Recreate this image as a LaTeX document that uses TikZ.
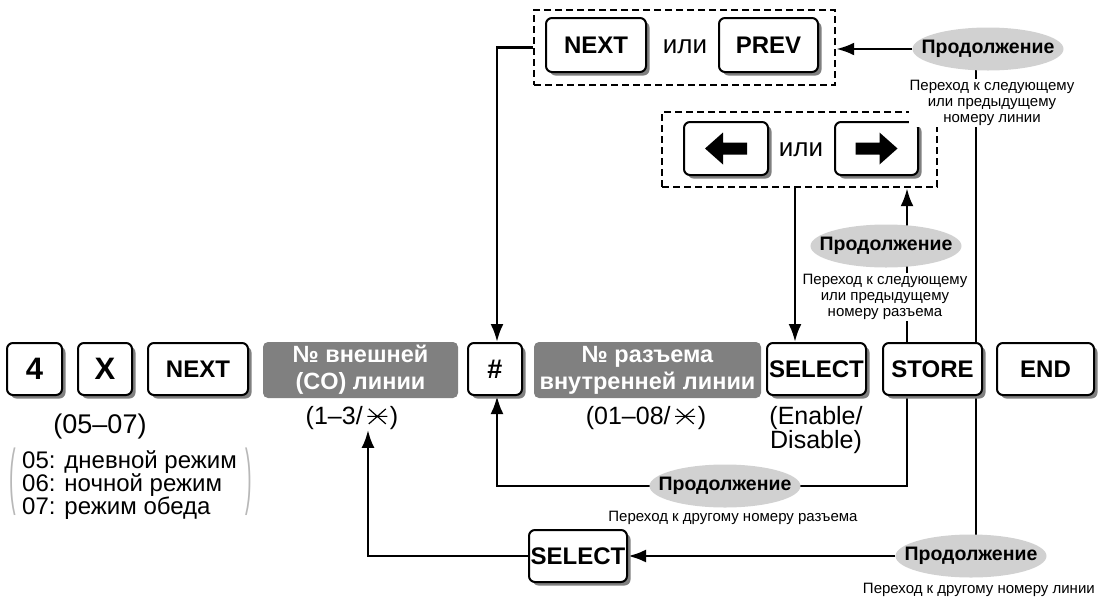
\documentclass[tikz,border=0pt]{standalone}
\usepackage{graphicx}
\usepackage{fontspec}
\setmainfont{Liberation Sans}
\usetikzlibrary{shapes.geometric,shadows,arrows.meta,backgrounds}
\definecolor{shd}{gray}{0.5}
\definecolor{boxgray}{gray}{0.5}
\definecolor{ellgray}{gray}{0.82}
\definecolor{pargray}{gray}{0.72}
\newsavebox\sxbox
\begin{document}
\sbox\sxbox{\pgfpicture\pgfsetlinewidth{1.2pt}%
\pgfpathmoveto{\pgfpoint{0pt}{0pt}}\pgfpathlineto{\pgfpoint{17pt}{15pt}}%
\pgfpathmoveto{\pgfpoint{0pt}{15pt}}\pgfpathlineto{\pgfpoint{17pt}{0pt}}%
\pgfpathmoveto{\pgfpoint{-1.5pt}{7.5pt}}\pgfpathlineto{\pgfpoint{18.5pt}{7.5pt}}%
\pgfusepath{stroke}\endpgfpicture}%
\begin{tikzpicture}[x=1pt,y=-1pt,
 keybox/.style={draw, line width=2pt, rounded corners=6pt, fill=white, minimum height=52pt, inner sep=0pt,
   font=\fontsize{24}{24}\selectfont\bfseries,
   drop shadow={shadow xshift=3.5pt, shadow yshift=-3.5pt, fill=shd, opacity=1}},
 graybox/.style={fill=boxgray, rounded corners=5pt, text=white, font=\fontsize{23.5}{27}\selectfont\bfseries,
   align=center, minimum height=56pt, inner sep=0pt},
 dashbox/.style={draw, line width=2.4pt, dash pattern=on 7pt off 4pt, inner sep=0pt},
 cont/.style={ellipse, fill=ellgray, minimum width=146pt, minimum height=43pt, inner xsep=-13pt, inner ysep=0pt,
   font=\fontsize{19.5}{19.5}\selectfont\bfseries},
 note/.style={fill=white, inner sep=1pt, align=center, font=\fontsize{15}{15.8}\selectfont},
 plain/.style={inner sep=0pt, align=center, font=\fontsize{25}{24}\selectfont},
 conn/.style={line width=2.8pt},
 arr/.style={line width=2.8pt, -{Latex[length=18pt,width=13pt]}},
]
\useasboundingbox (0,0) rectangle (1098,598);

% bottom row
\node[keybox, minimum width=55pt, font=\fontsize{31}{31}\selectfont\bfseries] (k4) at (34.5,369) {4};
\node[keybox, minimum width=54pt, font=\fontsize{31}{31}\selectfont\bfseries] (kX) at (105,369) {X};
\node[keybox, minimum width=100pt] (kN) at (198,369) {NEXT};
\node[graybox, minimum width=195pt] (g1) at (360.5,370) {№ внешней\\(CO) линии};
\node[keybox, minimum width=54pt, font=\fontsize{27}{27}\selectfont\bfseries] (kH) at (495,369) {\#};
\node[graybox, minimum width=227pt] (g2) at (647.5,370) {№ разъема\\внутренней линии};
\node[keybox, minimum width=99pt] (kS) at (816.5,369) {SELECT};
\node[keybox, minimum width=99pt] (kSt) at (932.5,369) {STORE};
\node[keybox, minimum width=97pt] (kE) at (1045.5,369) {END};

% texts under bottom row
\node[plain, font=\fontsize{27}{27}\selectfont] (r0507) at (100,427) {(05–07)};
\node[inner sep=0pt, align=left, anchor=west, font=\fontsize{24}{23}\selectfont] (lst) at (22,485)
  {05: дневной режим\\06: ночной режим\\07: режим обеда};
\node[inner sep=0pt, text=pargray, font=\fontsize{22}{22}\selectfont] (pl) at (13,482) {\scalebox{0.9}[3.3]{(}};
\node[inner sep=0pt, text=pargray, font=\fontsize{22}{22}\selectfont] (pr) at (249,482) {\scalebox{0.9}[3.3]{)}};
\node[plain] (r13) at (352,418) {(1–3/\kern4pt\usebox\sxbox\kern2pt)};
\node[plain] (r18) at (646,418) {(01–08/\kern4pt\usebox\sxbox\kern2pt)};
\node[plain] (ed) at (816,430) {(Enable/\\Disable)};

% top group
\node[dashbox, minimum width=301pt, minimum height=75pt] (b1) at (684.5,47.5) {};
\node[keybox, minimum width=100pt, minimum height=54pt] (kN2) at (596,45) {NEXT};
\node[plain, font=\fontsize{26}{26}\selectfont] (or1) at (685,47) {или};
\node[keybox, minimum width=99pt, minimum height=54pt] (kP) at (768.5,45) {PREV};

\node[dashbox, minimum width=275pt, minimum height=75pt] (b2) at (799.5,149.5) {};
\node[keybox, minimum width=84pt, minimum height=53pt] (kL) at (726,148.5) {};
\node[plain, font=\fontsize{26}{26}\selectfont] (or2) at (801,150) {или};
\node[keybox, minimum width=83pt, minimum height=53pt] (kR) at (876.5,148.5) {};
\fill (kL.center) ++(-21,0) -- ++(18,-16) -- ++(0,10) -- ++(24,0) -- ++(0,12) -- ++(-24,0) -- ++(0,10) -- cycle;
\fill (kR.center) ++(21,0) -- ++(-18,-16) -- ++(0,10) -- ++(-24,0) -- ++(0,12) -- ++(24,0) -- ++(0,10) -- cycle;

% continuation ellipses and notes
\node[cont] (e1) at (988,49) {Продолжение};
\node[note] (t1) at (992,103) {Переход к следующему\\или предыдущему\\номеру линии};
\node[cont] (e2) at (886,246) {Продолжение};
\node[note] (t2) at (885,297) {Переход к следующему\\или предыдущему\\номеру разъема};
\node[cont] (e3) at (725,486) {Продолжение};
\node[note] (t3) at (733,518) {Переход к другому номеру разъема};
\node[cont] (e4) at (971,556) {Продолжение};
\node[note, anchor=east] (t4) at (1096,590) {Переход к другому номеру линии};

\node[keybox, minimum width=98pt] (kSB) at (578,556) {SELECT};

\coordinate (xa) at (976,0);
\coordinate (xb) at (907,0);
\coordinate (xc) at (795,0);
\coordinate (xd) at (368,0);
\coordinate (xe) at (497,0);

\begin{scope}[on background layer]
\draw[arr] (b1.west) -| (xe |- kH.north);
\draw[arr] (e1.west) -- (b1.east |- e1.west);
\draw[conn] (xa |- kSt.north) -- (xa |- e1.center);
\draw[arr] (xb |- kSt.north) -- (xb |- b2.south);
\draw[arr] (xc |- b2.south) -- (xc |- kS.north);
\draw[arr] (xb |- kSt.south) |- (e3.center) -| (xe |- kH.south);
\draw[conn] (xa |- kSt.south) |- (e4.center);
\draw[arr] (e4.west) -- (kSB.east);
\draw[arr] (kSB.west) -| (xd |- r13.south);
\end{scope}
\end{tikzpicture}
\end{document}
